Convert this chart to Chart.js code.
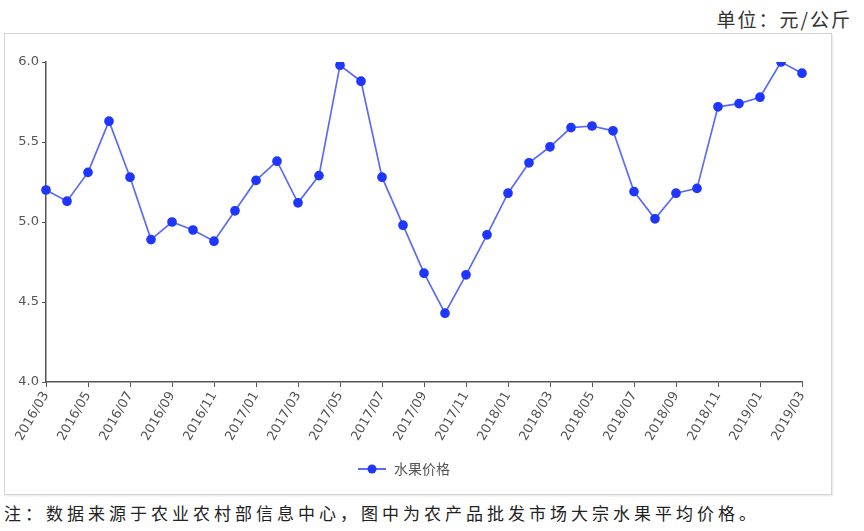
<!DOCTYPE html>
<html>
<head>
<meta charset="utf-8">
<script src="https://cdn.jsdelivr.net/npm/chart.js@4"></script>
<style>
    body { margin: 0; width: 864px; height: 531px; background: #fff; position: relative; overflow: hidden; font-family: "Noto Sans CJK SC", sans-serif; }
    .unit { position: absolute; right: 12px; top: 5px; font-size: 19px; letter-spacing: 2px; color: #333; }
    .box { position: absolute; left: 4px; top: 33px; width: 826px; height: 460px; border: 1px solid #d4d4d4; box-shadow: 1px 1px 2px #e6e6e6; }
    .note { position: absolute; left: 4px; top: 500px; font-size: 17px; letter-spacing: 4px; color: #222; }
</style>
</head>
<body>
<div class="unit">单位：元/公斤</div>
<div class="box"><canvas id="chart" width="826" height="460"></canvas></div>
<div class="note">注：数据来源于农业农村部信息中心，图中为农产品批发市场大宗水果平均价格。</div>
<script>
    // months 2016/03 - 2019/03
    const months = [
        '2016/03', '2016/04', '2016/05', '2016/06', '2016/07', '2016/08', '2016/09', '2016/10', '2016/11', '2016/12',
        '2017/01', '2017/02', '2017/03', '2017/04', '2017/05', '2017/06', '2017/07', '2017/08', '2017/09', '2017/10', '2017/11', '2017/12',
        '2018/01', '2018/02', '2018/03', '2018/04', '2018/05', '2018/06', '2018/07', '2018/08', '2018/09', '2018/10', '2018/11', '2018/12',
        '2019/01', '2019/02', '2019/03'
    ];
    const prices = [
        5.20, 5.13, 5.31, 5.63, 5.28, 4.89, 5.00, 4.95, 4.88, 5.07,
        5.26, 5.38, 5.12, 5.29, 5.98, 5.88, 5.28, 4.98, 4.68, 4.43, 4.67, 4.92,
        5.18, 5.37, 5.47, 5.59, 5.60, 5.57, 5.19, 5.02, 5.18, 5.21, 5.72, 5.74,
        5.78, 6.00, 5.93
    ];
    const yTicks = [4.0, 4.5, 5.0, 5.5, 6.0];

    const lineColor = '#5b6cf2';
    const dotColor = '#1f36ff';
    const axisColor = '#555';

    // legend marker: -●-
    const marker = document.createElement('canvas');
    marker.width = 30;
    marker.height = 12;
    const mctx = marker.getContext('2d');
    mctx.strokeStyle = lineColor;
    mctx.lineWidth = 2;
    mctx.beginPath();
    mctx.moveTo(1, 6);
    mctx.lineTo(29, 6);
    mctx.stroke();
    mctx.fillStyle = dotColor;
    mctx.beginPath();
    mctx.arc(15, 6, 4.5, 0, Math.PI * 2);
    mctx.fill();

    new Chart(document.getElementById('chart'), {
        type: 'line',
        data: {
            labels: months,
            datasets: [{
                label: '水果价格',
                data: prices,
                borderColor: lineColor,
                borderWidth: 1.7,
                backgroundColor: dotColor,
                pointBackgroundColor: dotColor,
                pointBorderColor: dotColor,
                pointRadius: 4,
                pointStyle: 'circle',
                tension: 0,
                fill: false
            }]
        },
        options: {
            responsive: false,
            animation: false,
            layout: { padding: { left: 0, right: 29, top: 28, bottom: 8 } },
            scales: {
                x: {
                    offset: false,
                    grid: { drawOnChartArea: false, tickLength: 5, color: axisColor },
                    border: { color: axisColor, width: 1.5 },
                    ticks: {
                        autoSkip: false,
                        maxRotation: 60,
                        minRotation: 60,
                        color: axisColor,
                        font: { family: 'DejaVu Sans', size: 13 },
                        padding: 2,
                        callback: function (v, i) { return i % 2 === 0 ? months[i] : null; }
                    },
                    afterFit: function (scale) { scale.height = 72; }
                },
                y: {
                    min: 4,
                    max: 6,
                    afterBuildTicks: function (scale) { scale.ticks = yTicks.map(v => ({ value: v })); },
                    grid: { drawOnChartArea: false, tickLength: 4, color: axisColor },
                    border: { color: axisColor, width: 1.5 },
                    ticks: {
                        color: axisColor,
                        font: { family: 'DejaVu Sans', size: 13 },
                        padding: 3,
                        callback: v => v.toFixed(1)
                    },
                    afterFit: function (scale) { scale.width = 41; }
                }
            },
            plugins: {
                legend: {
                    position: 'bottom',
                    labels: {
                        usePointStyle: true,
                        pointStyle: marker,
                        pointStyleWidth: 30,
                        color: axisColor,
                        font: { family: 'Noto Sans CJK SC', size: 14 },
                        padding: 8
                    }
                },
                tooltip: { enabled: false }
            }
        }
    });
</script>
</body>
</html>
